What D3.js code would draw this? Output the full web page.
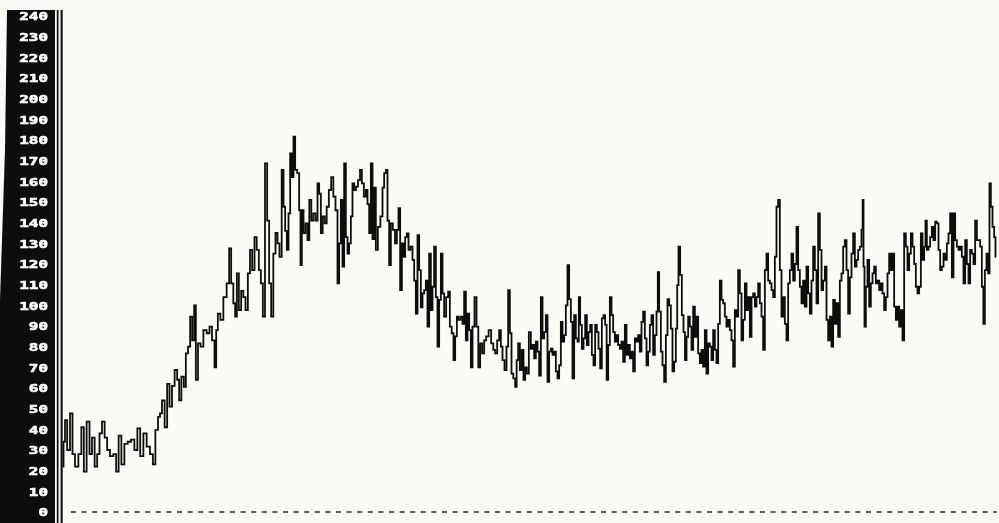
<!DOCTYPE html>
<html>
<head>
<meta charset="utf-8">
<script src="https://cdn.jsdelivr.net/npm/d3@7/dist/d3.min.js"></script>
<style>
  html, body { margin: 0; padding: 0; background: #fbfbf5; }
  svg { display: block; }
</style>
</head>
<body>
<svg id="chart" width="999" height="523"></svg>
<script>
// Scale readout: 0 to 240 in steps of 10
const tickValues = [0, 10, 20, 30, 40, 50, 60, 70, 80, 90, 100, 110, 120,
  130, 140, 150, 160, 170, 180, 190, 200, 210, 220, 230, 240];

// Recorded trace: [sample time, reading]
const trace = [
  [0,22],[1,34],[3,44.5],[5.3,30],[8.7,47.7],[10.3,28],[13.7,22],[17,28],[19.7,41],[22,19.5],
  [25.3,43.7],[27.7,28],[30.3,36],[33,22],[35.3,28],[37.7,38],[40.3,43.7],[43,36],[45.3,30],[48.7,27],
  [52,28],[54.3,19.5],[57,37],[59.7,23],[63,33],[66.3,34],[69.7,35],[73,30],[75.7,40.5],[78.7,27],
  [82,38],[85.3,31.6],[88.7,28],[91,23],[93.7,39.7],[96.3,46],[97.7,47.7],[100.3,54],[103,41],[105.3,62],
  [107.7,51],[110.3,61],[113,68.7],[115.3,64],[117,54],[119.7,65.5],[122,60.6],[123.7,76.8],[126.3,80],[128,94.5],
  [130.3,83],[132,100],[133.7,64],[136.3,81.6],[138.7,80],[142,88],[145.3,86.5],[147.7,89.7],[150.3,83],[152.7,70],
  [153.7,88],[156,96],[158.7,93],[162,104],[165.3,110.6],[167,127.6],[169.3,110.6],[171.3,101],[173,94.5],[174.7,115.5],
  [177,97.7],[179.3,107],[181.3,104],[183.7,97.7],[186,115.5],[188,126.8],[190.3,117],[192.7,133],[194.7,126.8],[197,117],
  [198.7,110.6],[201,94.5],[203,168.7],[205.3,141],[207,110.6],[209.3,94.5],[211.3,125],[213.7,135],[215.3,130],[217.7,123.5],
  [219.7,165.5],[221.3,147.7],[223,136],[224.7,126.8],[226.3,144.5],[228,173.5],[229.7,162],[231.3,181.6],[233,165.5],[235.3,164],
  [237,146],[238,119.5],[239.7,146],[241.3,135],[243.7,139.7],[245.3,131.6],[247.3,151],[249.3,141],[251.3,144.5],[253.7,141],
  [255.3,159],[257,154],[258.7,135],[260.7,143],[262.7,139.7],[264.7,147.7],[267,155.8],[269.3,162],[271.3,152.6],[273.7,146],
  [275.3,110.6],[277,130],[278.7,151],[280.3,118.7],[282,168.7],[283.7,133],[285.3,125],[287,130],[288.7,143],[290.3,159],
  [292,155.8],[294,157.4],[296,160.6],[298,165.5],[299.7,159],[302,152.6],[303.7,155.8],[305.3,149],[307,135],[308.7,168.7],
  [310.3,132],[312,157],[313.7,126.8],[316,138],[318.7,143],[320.3,157],[322,164],[323.7,165.5],[325.3,141],[327,119.5],
  [328.7,139.7],[331,136.5],[333,130],[334.7,136.5],[336.3,147],[338,107.4],[339.7,130],[341.3,123.5],[343,133],[344.7,134.8],
  [346.3,126.8],[348.7,128.4],[350.3,122],[352,112],[353.7,96],[355.3,134],[357,117],[358.7,99],[360.3,105.8],[362,107.4],
  [363.7,112],[365.3,89.7],[367,125],[368.7,97.7],[370.3,109],[372,128.4],[373.7,104],[375.3,80],[377,102.6],[378.7,125],
  [380.3,105.8],[382,94.5],[384.3,104],[386,106.6],[387.7,89.7],[389.7,86.5],[391.3,73.5],[393,85],[394.7,94.5],[396.3,93],
  [398.7,94.5],[400.3,91],[402,106.6],[403.7,83],[405.3,96],[407,88],[408.7,70],[410.3,89.7],[412.7,104],[414.3,89.7],
  [416.3,70],[418,81.6],[420.3,76.8],[422,83],[424.3,85],[427,88],[429.3,81.6],[431.3,78.4],[433,76.8],[435.3,83],
  [437,88],[438.7,80],[440.3,73.5],[442.7,68.7],[444.3,80],[446,107.4],[447.7,86.5],[449.3,67],[451.3,64.7],[453,60.6],
  [454.3,73.5],[456,81.6],[457.7,68.7],[459.7,78.4],[461.3,63.9],[463,70],[464.7,67],[467,87],[468.7,79],[470.3,80.8],
  [472,74.4],[473.7,82.4],[475.3,77.6],[477,66],[478.7,104],[480.3,84],[482,87],[483.7,95.3],[485.3,63],[487,77.6],
  [488.7,79],[490.3,76],[492,77.6],[493.7,68],[495.3,64.7],[497,71],[498.7,92],[500.3,82.4],[502,85.6],[503.7,100],
  [505.3,119.5],[507,103],[508.7,92],[510.3,64.7],[512,95.3],[513.7,84],[515.3,82.4],[516.3,104],[518,90.5],[519.7,79],
  [521.3,84],[523,95.3],[524.7,80.8],[526.3,87],[528,90.5],[529.7,76],[531.3,71],[533,90.5],[534.7,87],[536.3,79],
  [538,69.5],[539.7,93.7],[541.3,95.3],[543,90.5],[544.3,64],[546,80.8],[547.7,104],[549.3,95.3],[551,87],[552.7,82.4],
  [554.3,85.6],[556,80.8],[557.7,79],[559.3,82.4],[561,72.7],[562.7,90.5],[564.3,76],[566,80.8],[567.7,74.4],[569.3,77.6],
  [571,68],[572.7,84],[574.3,82.4],[576,85.6],[577.7,77.6],[579.3,92],[581,97],[582.7,84],[584.3,71],[586,77.6],
  [587.7,90.5],[589.3,95.3],[591,76],[592.7,85.6],[594.3,97],[595.3,116],[597,97],[598.7,77.6],[600.3,71],[602,63],
  [603.7,85.6],[605.3,103],[607,100],[608.7,88.7],[610.3,68],[612,72.7],[613.7,88.7],[614.7,109.8],[616.3,128.4],[618,114.7],
  [619.7,95.3],[621.3,87],[622.7,73.5],[624.3,84.8],[626,94.5],[627.7,89.7],[629.3,78.4],[631,99.4],[632.7,84.8],[634.3,94.5],
  [636,76.8],[637.7,72],[639.3,78.4],[641,70.3],[642.7,88],[644.3,67],[646,81.6],[647.7,80],[649.3,73.5],[651,88],
  [652.7,78.4],[654.3,72],[656,91],[657.7,112],[659.3,102.6],[661,101],[662.7,94.5],[664.3,89.7],[666,93],[667.7,88],
  [669.3,83],[671,70.3],[672.7,97.7],[674.3,94.5],[676,117],[677.7,105.8],[679.3,83],[681,93],[682.7,110.6],[684.3,97.7],
  [686,104],[687.7,84.8],[689.3,104],[691,105.8],[692.7,99.4],[694.3,104],[696,110.6],[697.7,101],[699.3,94.5],[701,78.4],
  [702.7,117],[704.3,125],[706,112],[707.7,110.6],[709.3,107.4],[711,104],[712.7,123.5],[714.3,147.7],[716,151],[717.7,117],
  [719.3,94.5],[721,104],[722.7,91],[724.3,83],[726,110.6],[727.7,117],[729.3,125],[731,112],[732.7,120],[734.3,138],
  [736,117],[737.7,109],[739.3,101],[741,112],[742.7,99.4],[744.3,118.7],[746,105.8],[747.7,96],[749.3,112],[751,128.4],
  [752.7,117],[754.3,101],[756,144.5],[757.7,126.8],[759.3,107.4],[761,112],[762.7,118.7],[764.3,93],[766,83],[767.7,94.5],
  [769.3,80],[771,102.6],[772.7,91],[774.3,101],[776,84.8],[777.7,112],[779.3,115.5],[781,128.4],[782.7,131.6],[784.3,117],
  [786,96],[787.7,113.5],[789.3,125],[791,134.8],[792.7,118.7],[794.3,122],[796,126.8],[797.7,128.4],[799.3,136.5],[800,151],
  [801,118.7],[802,89.7],[803.7,109],[805.3,122],[807,99.4],[808.7,110.6],[810.3,115.5],[812,118.7],[813.7,110.6],[815.3,112],
  [817,107.4],[818.7,110.6],[820.3,105.8],[822,97.7],[823.7,104],[825.3,115.5],[827,125],[828.7,117],[830.3,125],[832,99.4],
  [833.7,93],[835.3,99.4],[837,89.7],[838.7,97.7],[840.3,83],[842,134.8],[843.7,128.4],[845.3,117],[847,125],[848.7,134.8],
  [850.3,128.4],[852,120],[853.7,109],[855.3,105.8],[857,109],[858.7,134.8],[860.3,122],[862,128.4],[863,141],[864.7,126.8],
  [866.3,128.4],[868,133],[869.7,138],[871.3,131.6],[873,140.5],[874.7,139.7],[876.3,126.8],[878,117],[879.7,118.7],[881.3,125],
  [883,122],[884.7,130],[886.3,134.8],[888,144.5],[889.7,113.5],[891.3,144.5],[893,131.6],[894.7,128.4],[896.3,126.8],[898,128.4],
  [899.7,123.5],[901.3,110.6],[903,131.6],[904.7,120],[906.3,110.6],[908,126.8],[909.7,125],[911.3,120],[913,141],[914.7,131.6],
  [916.3,131.6],[918,128.4],[919.7,109],[921,91],[922.7,117],[924.3,125],[926,115.5],[927,159],[928.7,147.7],[930.3,138],
  [932,133],[933,123.5]
];

const svg = d3.select("#chart");
const W = 999, H = 523;

const x = d3.scaleLinear().domain([0, 934]).range([63, 997]);
const y = d3.scaleLinear().domain([0, 240]).range([512, 16]);

// Slight softening of the printed strokes
const defs = svg.append("defs");
defs.append("filter").attr("id", "soft")
  .attr("x", "-2%").attr("y", "-2%").attr("width", "104%").attr("height", "104%")
  .append("feGaussianBlur").attr("stdDeviation", 0.4);

// Paper
svg.append("rect").attr("width", W).attr("height", H).attr("fill", "#fbfbf5");

const root = svg.append("g").attr("filter", "url(#soft)");

// Dark readout strip with its double rule
root.append("path")
  .attr("d", `M7,10 L55,10 L55,${H} L0,${H} L0,300 L5,150 Z`)
  .attr("fill", "#0b0b0b");
root.append("rect").attr("x", 56.8).attr("y", 10).attr("width", 1.7).attr("height", H - 10).attr("fill", "#0b0b0b");
root.append("rect").attr("x", 60.6).attr("y", 10).attr("width", 2.1).attr("height", H - 10).attr("fill", "#0b0b0b");

// Scale labels
const axis = d3.axisLeft(y).tickValues(tickValues).tickSize(0).tickPadding(0);
const ag = root.append("g").attr("transform", "translate(48,0)").call(axis);
ag.select(".domain").remove();
ag.selectAll("text")
  .attr("fill", "#ffffff")
  .attr("stroke", "#ffffff")
  .attr("stroke-width", 0.6)
  .attr("font-family", "'DejaVu Sans Mono', monospace")
  .attr("font-weight", "bold")
  .attr("font-size", 11)
  .attr("x", 0)
  .attr("dy", "0.36em")
  .attr("transform", "scale(1.45,1)");

// Zero baseline
root.append("line")
  .attr("x1", 71).attr("x2", 997)
  .attr("y1", y(0)).attr("y2", y(0))
  .attr("stroke", "#2a2a2a")
  .attr("stroke-width", 1.5)
  .attr("stroke-dasharray", "5,5.6");

// Trace
const line = d3.line()
  .x(d => x(d[0]))
  .y(d => y(d[1]))
  .curve(d3.curveStep);

root.append("path")
  .datum(trace)
  .attr("d", line)
  .attr("fill", "none")
  .attr("stroke", "#0d0d0d")
  .attr("stroke-width", 1.8)
  .attr("stroke-linejoin", "miter");
</script>
</body>
</html>
